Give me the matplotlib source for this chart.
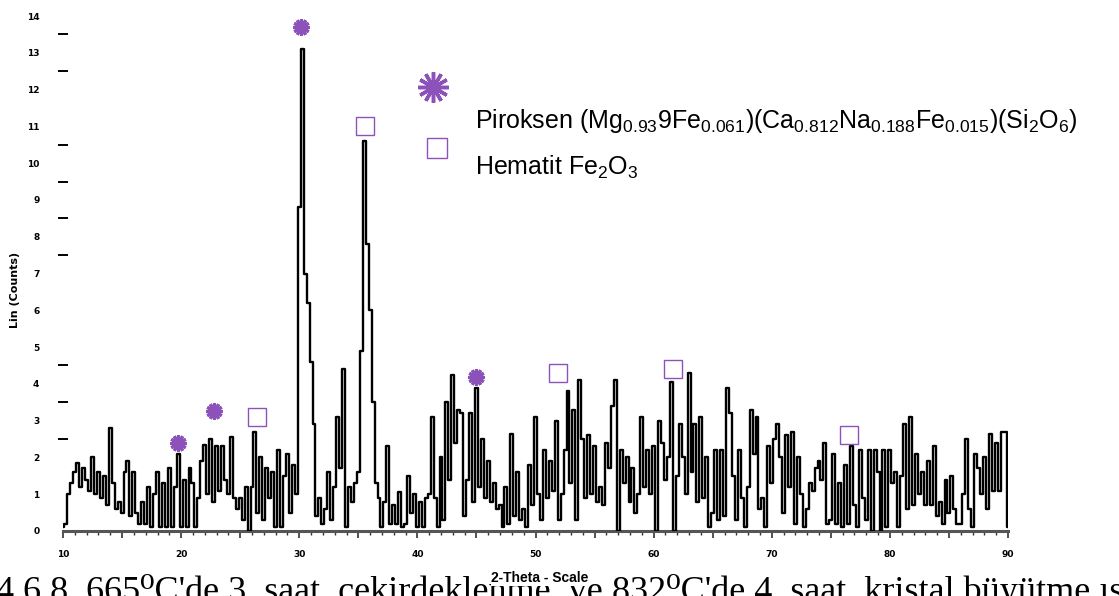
import numpy as np
import matplotlib.pyplot as plt
from matplotlib.lines import Line2D

# 2-theta scan, 0.25 degree steps
two_theta = np.arange(10, 90.001, 0.25)
counts = [
    0.1, 0.2, 1.0, 1.3,   1.6, 1.85, 1.2, 1.7,   1.4, 1.1, 2.0, 1.0,   1.6, 0.9, 1.5, 0.7,
    2.8, 1.3, 0.6, 0.8,   0.5, 1.6, 1.9, 0.4,   1.6, 0.5, 0.2, 0.8,   0.2, 1.2, 0.1, 1.0,
    1.6, 0.1, 1.3, 0.1,   1.7, 0.1, 1.2, 2.1,   0.1, 1.4, 0.1, 1.7,   1.3, 0.1, 0.9, 1.9,
    2.35, 1.0, 2.5, 0.8,  2.3, 1.1, 2.3, 1.4,   1.0, 2.55, 0.9, 0.6,  0.9, 0.3, 1.2, 0.0,
    1.2, 2.7, 0.5, 2.0,   0.3, 1.7, 0.9, 1.6,   0.1, 2.2, 0.1, 1.5,   2.1, 0.5, 1.8, 1.0,
    8.8, 13.1, 7.0, 6.2,  4.6, 2.9, 0.4, 0.9,   0.2, 0.6, 1.6, 0.3,   1.2, 3.1, 1.7, 4.4,
    0.1, 1.2, 0.8, 1.3,   1.6, 4.9, 10.6, 7.8,  6.0, 3.5, 1.3, 0.9,   0.1, 0.8, 2.3, 0.2,
    0.7, 0.2, 1.05, 0.1,  0.2, 1.5, 0.5, 1.0,   0.1, 0.8, 0.1, 0.9,   1.0, 3.1, 0.9, 0.1,
    2.0, 0.3, 3.5, 1.4,   4.25, 2.4, 3.3, 3.2,  0.4, 1.4, 3.2, 0.8,   3.9, 1.2, 2.5, 0.9,
    1.9, 0.8, 1.3, 0.6,   0.7, 0.1, 1.2, 0.2,   2.65, 0.4, 1.6, 0.3,  0.6, 0.1, 1.8, 0.7,
    3.1, 1.0, 0.3, 2.2,   0.9, 1.9, 1.1, 3.0,   0.3, 1.0, 2.2, 3.8,   1.3, 3.3, 0.3, 4.1,
    2.5, 0.9, 2.6, 1.0,   2.3, 0.8, 1.2, 0.7,   2.4, 1.7, 3.4, 4.1,   0.0, 2.2, 1.3, 2.0,
    0.8, 1.7, 0.5, 1.0,   3.1, 1.2, 2.2, 1.0,   2.3, 0.0, 3.0, 2.4,   1.4, 2.0, 4.05, 0.0,
    1.5, 2.9, 2.0, 1.0,   4.3, 1.6, 2.9, 0.8,   3.1, 0.9, 2.0, 0.1,   0.5, 2.2, 0.3, 2.2,
    0.4, 3.9, 3.2, 1.5,   0.3, 2.2, 0.9, 0.1,   1.2, 3.3, 2.1, 3.1,   0.6, 0.9, 0.1, 2.3,
    1.3, 2.5, 2.9, 2.0,   0.5, 2.6, 1.2, 2.7,   0.2, 2.0, 1.0, 0.1,   0.6, 1.3, 1.1, 1.7,
    1.9, 1.4, 2.4, 0.2,   0.3, 2.1, 0.2, 1.3,   0.1, 1.8, 0.2, 2.3,   0.7, 0.1, 2.2, 0.9,
    0.3, 2.2, 0.0, 2.2,   1.6, 0.0, 2.2, 0.1,   2.2, 1.3, 1.6, 0.1,   1.5, 2.9, 0.6, 3.1,
    0.7, 2.1, 1.0, 1.6,   0.7, 1.9, 0.7, 2.3,   0.4, 0.8, 0.2, 1.4,   0.5, 1.5, 0.6, 0.2,
    0.2, 1.0, 2.5, 0.6,   0.1, 2.1, 1.7, 1.0,   2.0, 0.6, 2.65, 1.1,  2.4, 1.1, 2.7, 2.7,
    0.1,
]

# phase markers
piroksen_theta = [19.75, 22.8, 30.17, 45.0]
piroksen_y = [2.4, 3.25, 13.7, 4.2]
hematit_theta = [26.4, 35.6, 51.9, 61.6, 76.5]
hematit_y = [3.1, 11.0, 4.3, 4.4, 2.6]

y_labels = [str(i) for i in range(15)]
x_labels = [str(v) for v in range(10, 91, 10)]
y_dashes = [2, 2.5, 3, 3.5, 4, 4.5, 7.5, 8, 8.5, 9, 9.5, 10, 10.5, 12.5, 13.5, 14]

purple = '#8d52b9'
W, H = 1119, 596

fig = plt.figure(figsize=(W / 100, H / 100), dpi=100)
ax = fig.add_axes([63 / W, 1 - 531 / H, (1008 - 63) / W, (531 - 16) / H])

ax.plot(two_theta, counts, color='black', lw=1.7, drawstyle='steps-mid', zorder=3)
ax.plot(piroksen_theta, piroksen_y, ls='none', marker=(12, 2, 0), ms=12,
        mec=purple, mew=2.2, zorder=4)
ax.plot(hematit_theta, hematit_y, ls='none', marker='s', ms=13,
        mfc='none', mec=purple, mew=1.0, zorder=4)

ax.set_xlim(10, 90)
ax.set_ylim(0, 14)
for s in ['top', 'right', 'left']:
    ax.spines[s].set_visible(False)
ax.spines['bottom'].set_color('#555555')
ax.spines['bottom'].set_linewidth(2.2)

ax.set_xticks(range(10, 91, 5))
ax.set_xticklabels([x_labels[i // 2] if i % 2 == 0 else '' for i in range(17)])
ax.set_xticks(range(10, 91), minor=True)
ax.tick_params(axis='x', which='major', length=5, width=1.2, color='#333333', pad=9,
               labelsize=6.5)
ax.tick_params(axis='x', which='minor', length=3, width=1.0, color='#333333')

ax.set_yticks(range(15))
ax.set_yticklabels(y_labels)
ax.set_yticks(y_dashes, minor=True)
ax.tick_params(axis='y', which='major', length=0, pad=17, labelsize=6.5)
ax.tick_params(axis='y', which='minor', direction='inout', length=7, width=1.4)
for lab in ax.get_xticklabels() + ax.get_yticklabels():
    lab.set_fontweight('bold')

fig.text(15 / W, 1 - 290 / H, 'Lin (Counts)', rotation=90, ha='center', va='center',
         fontsize=8, fontweight='bold')

# legend
fig.add_artist(Line2D([433 / W], [1 - 87 / H], transform=fig.transFigure,
                      marker=(12, 2, 0), ms=22, mec=purple, mew=2.5, ls='none'))
fig.add_artist(Line2D([437 / W], [1 - 148 / H], transform=fig.transFigure,
                      marker='s', ms=15, mfc='none', mec=purple, mew=1.0, ls='none'))
r = r'\mathregular'
fig.text(475 / W, 1 - 128 / H,
         'Piroksen (Mg$' + r + '{_{0.93}}$9Fe$' + r + '{_{0.061}}$)(Ca$' + r + '{_{0.812}}$Na$'
         + r + '{_{0.188}}$Fe$' + r + '{_{0.015}}$)(Si$' + r + '{_2}$O$' + r + '{_6}$)',
         fontsize=18, family='Liberation Sans', va='baseline')
fig.text(475 / W, 1 - 175 / H, 'Hematit Fe$' + r + '{_2}$O$' + r + '{_3}$',
         fontsize=18, family='Liberation Sans', va='baseline')

# caption, cut at the bottom edge as in the source page
cap = dict(fontsize=26, family=['Liberation Serif', 'DejaVu Serif'], va='baseline')
fig.text(-4 / W, 1 - 601 / H, "4.6.8. 665⁰C'de 3  saat  çekirdeklenme  ve", **cap)
fig.text(612 / W, 1 - 601 / H, "832⁰C'de 4  saat  kristal büyütme ısıl işlemi", **cap)

fig.text(540 / W, 1 - 578 / H, '2-Theta - Scale', ha='center', va='center',
         fontsize=10, fontweight='bold', family='Liberation Sans', zorder=10,
         bbox=dict(facecolor='white', edgecolor='none', pad=0.5))

fig.savefig('out.png', dpi=100)
